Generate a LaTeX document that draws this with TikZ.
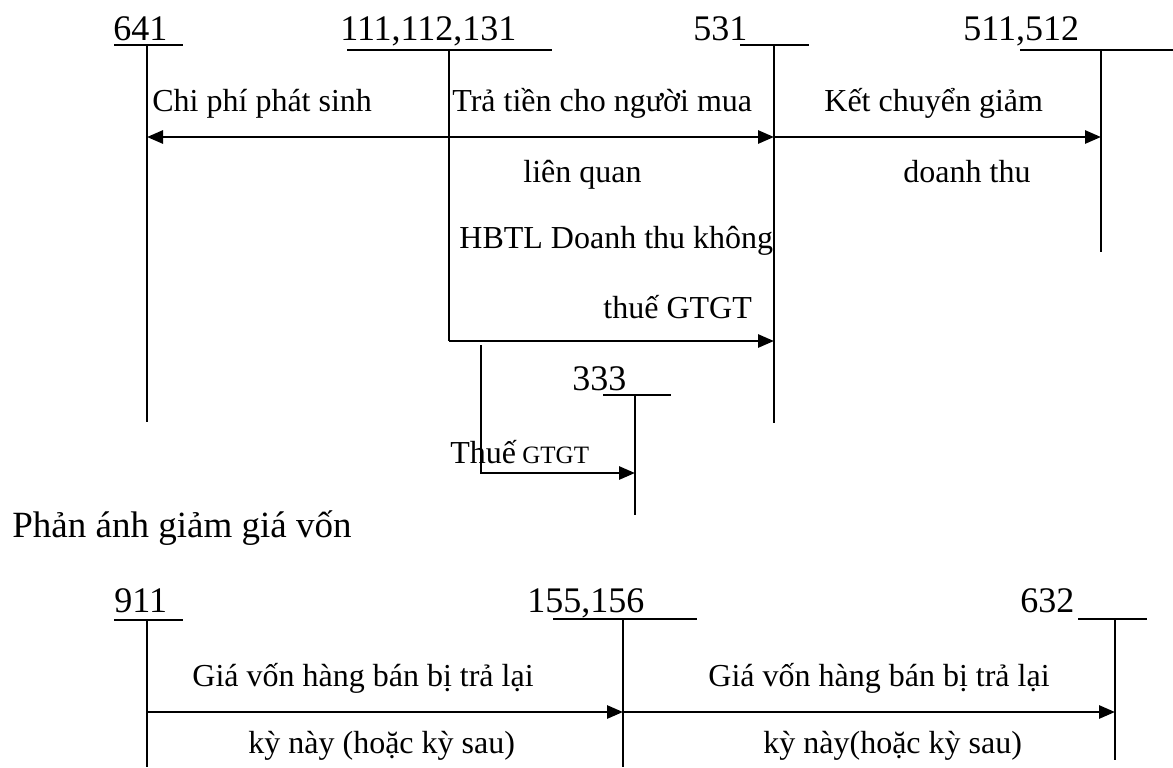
\documentclass[tikz,border=0pt]{standalone}
\usepackage{fontspec}
\setmainfont{Liberation Serif}
\usetikzlibrary{arrows.meta}
\begin{document}
\begin{tikzpicture}[x=0.5pt,y=-0.5pt,
  acct/.style={anchor=base west, inner sep=0pt, font=\fontsize{18}{20}\selectfont},
  lbl/.style={anchor=base west, inner sep=0pt, font=\fontsize{16}{18}\selectfont},
  rule/.style={line width=0.8pt},
  stem/.style={line width=1.1pt},
  flow/.style={line width=1.4pt, -{Triangle[length=8pt,width=6.5pt]}},
]
\useasboundingbox (0,0) rectangle (1173,767);

% ---- account names
\node[acct] (n641) at (113,40) {641};
\node[acct] (n111) at (340,40) {111,112,131};
\node[acct] (n531) at (693,40) {531};
\node[acct] (n511) at (963,40) {511,512};
\node[acct] (n333) at (572,390) {333};
\node[acct] (n911) at (114,612) {911};
\node[acct] (n155) at (527,612) {155,156};
\node[acct] (n632) at (1020,612) {632};

% ---- T-account heads and stems
\coordinate (u641a) at (114,45);  \coordinate (u641b) at (183,45);
\coordinate (t641) at (147,45);   \coordinate (e641) at (147,422);
\coordinate (u111a) at (347,50);  \coordinate (u111b) at (552,50);
\coordinate (t111) at (449,50);   \coordinate (c111) at (449,341);
\coordinate (u531a) at (740,45);  \coordinate (u531b) at (809,45);
\coordinate (t531) at (774,45);   \coordinate (e531) at (774,423);
\coordinate (u511a) at (1020,50); \coordinate (u511b) at (1173,50);
\coordinate (t511) at (1101,50);  \coordinate (e511) at (1101,252);
\coordinate (u333a) at (603,395); \coordinate (u333b) at (671,395);
\coordinate (t333) at (635,395);  \coordinate (e333) at (635,515);
\coordinate (u911a) at (114,620); \coordinate (u911b) at (183,620);
\coordinate (t911) at (147,620);  \coordinate (e911) at (147,767);
\coordinate (u155a) at (553,619); \coordinate (u155b) at (697,619);
\coordinate (t155) at (623,619);  \coordinate (e155) at (623,767);
\coordinate (u632a) at (1078,619);\coordinate (u632b) at (1147,619);
\coordinate (t632) at (1115,619); \coordinate (e632) at (1115,760);

\foreach \a in {641,111,531,511,333,911,155,632}
  \draw[rule] (u\a a) -- (u\a b);
\draw[stem] (t641) -- (e641);
\draw[stem] (t111) -- (c111);
\draw[stem] (t531) -- (e531);
\draw[stem] (t511) -- (e511);
\draw[stem] (t333) -- (e333);
\draw[stem] (t911) -- (e911);
\draw[stem] (t155) -- (e155);
\draw[stem] (t632) -- (e632);

% ---- entry points on the stems
\coordinate (h111) at (449,137);
\coordinate (h641) at (147,137);
\coordinate (h531) at (774,137);
\coordinate (h511) at (1101,137);
\coordinate (k531) at (774,341);
\coordinate (b111) at (481,345);
\coordinate (b333) at (635,473);
\coordinate (g911) at (147,712);
\coordinate (g155) at (623,712);
\coordinate (g632) at (1115,712);

% ---- postings
\draw[flow] (h111) -- (h641);
\draw[flow] (h111) -- (h531);
\draw[flow] (h531) -- (h511);
\draw[flow] (c111) -- (k531);
\draw[flow] (b111) |- (b333);
\draw[flow] (g911) -- (g155);
\draw[flow] (g155) -- (g632);

% ---- posting texts
\node[lbl] (l1) at (152,111) {Chi phí phát sinh};
\node[lbl] (l2) at (452,111) {Trả tiền cho người mua};
\node[lbl] (l3) at (824,111) {Kết chuyển giảm};
\node[lbl] (l4) at (523,182) {liên quan};
\node[lbl] (l5) at (903,182) {doanh thu};
\node[lbl] (l6) at (459,248) {HBTL Doanh thu không};
\node[lbl] (l7) at (603,318) {thuế GTGT};
\node[lbl] (l8) at (450,463) {Thuế{\fontsize{12.5}{14}\selectfont\ GTGT}};
\node[acct, font=\fontsize{18.5}{20}\selectfont] (h2) at (12,537) {Phản ánh giảm giá vốn};
\node[lbl] (l9) at (192,686) {Giá vốn hàng bán bị trả lại};
\node[lbl] (l10) at (708,686) {Giá vốn hàng bán bị trả lại};
\node[lbl] (l11) at (248,753) {kỳ này (hoặc kỳ sau)};
\node[lbl] (l12) at (763,753) {kỳ này(hoặc kỳ sau)};
\end{tikzpicture}
\end{document}
